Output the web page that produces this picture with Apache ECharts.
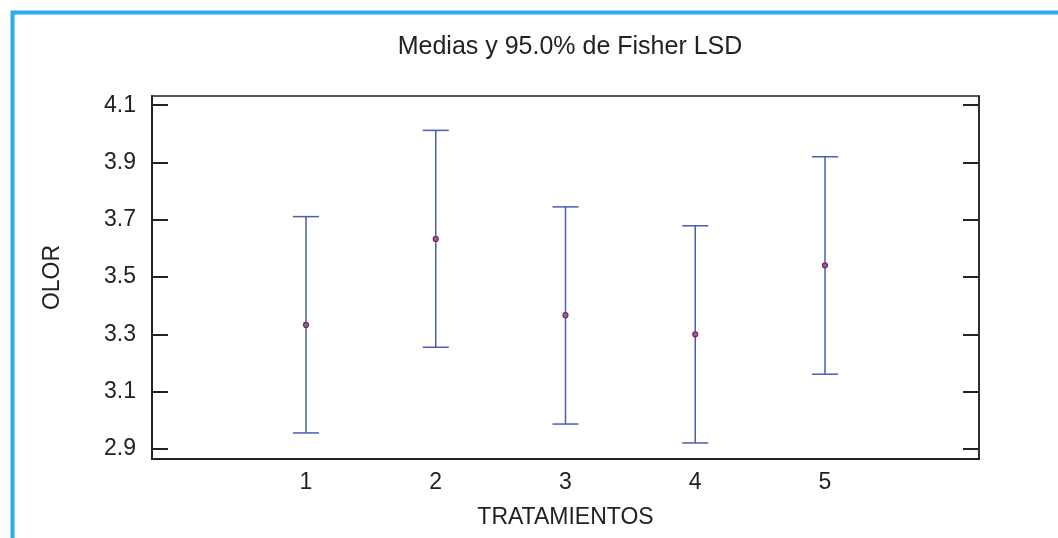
<!DOCTYPE html>
<html>
<head>
<meta charset="utf-8">
<script src="https://cdn.jsdelivr.net/npm/echarts@6/dist/echarts.min.js"></script>
<style>html,body{margin:0;padding:0;background:#fff}#c{width:1058px;height:538px}</style>
</head>
<body>
<div id="c"></div>
<script>
var categories = [1, 2, 3, 4, 5];
var means = [3.333, 3.633, 3.367, 3.300, 3.541];
var lower = [2.956, 3.255, 2.987, 2.921, 3.161];
var upper = [3.711, 4.012, 3.745, 3.679, 3.920];
var yTicks = [2.9, 3.1, 3.3, 3.5, 3.7, 3.9, 4.1];
var xTicks = [1, 2, 3, 4, 5];

var font = '"Liberation Sans", Arial, sans-serif';
var chart = echarts.init(document.getElementById('c'), null, {renderer: 'canvas'});

var barData = categories.map(function (c, i) { return [c, lower[i], upper[i]]; });
var meanData = categories.map(function (c, i) { return [c, means[i]]; });

chart.setOption({
  animation: false,
  backgroundColor: '#fff',
  title: {
    text: 'Medias y 95.0% de Fisher LSD',
    left: 565, textAlign: 'center', top: 30,
    textStyle: {fontFamily: font, fontSize: 25, fontWeight: 'normal', color: '#222'}
  },
  graphic: [{
    type: 'rect', left: 10, top: 10,
    shape: {x: 0, y: 0, width: 1200, height: 700},
    style: {fill: 'none', stroke: '#2aace4', lineWidth: 4},
    silent: true
  }],
  grid: {left: 152, top: 96, right: 79, bottom: 79, show: true, borderColor: '#222', borderWidth: 1.5, containLabel: false},
  xAxis: {
    type: 'value', min: -0.187, max: 6.187,
    name: 'TRATAMIENTOS', nameLocation: 'middle', nameGap: 47,
    nameTextStyle: {fontFamily: font, fontSize: 23, color: '#222'},
    axisLine: {show: true, onZero: false, lineStyle: {color: '#222', width: 2}},
    axisTick: {show: false},
    splitLine: {show: false},
    axisLabel: {customValues: xTicks, fontFamily: font, fontSize: 23, color: '#222', margin: 12}
  },
  yAxis: [{
    type: 'value', min: 2.865, max: 4.132,
    name: 'OLOR', nameLocation: 'middle', nameGap: 88,
    nameTextStyle: {fontFamily: font, fontSize: 23, color: '#222'},
    axisLine: {show: true, onZero: false, lineStyle: {color: '#222', width: 2}},
    axisTick: {show: true, inside: true, length: 16, customValues: yTicks, lineStyle: {color: '#222', width: 2}},
    splitLine: {show: false},
    axisLabel: {customValues: yTicks, fontFamily: font, fontSize: 23, color: '#222', margin: 16,
      formatter: function (v) { return v.toFixed(1); }}
  }, {
    type: 'value', min: 2.865, max: 4.132, position: 'right',
    axisLine: {show: true, onZero: false, lineStyle: {color: '#222', width: 1.5}},
    axisTick: {show: true, inside: true, length: 16, customValues: yTicks, lineStyle: {color: '#222', width: 2}},
    splitLine: {show: false},
    axisLabel: {show: false}
  }],
  series: [{
    type: 'custom',
    data: barData,
    encode: {x: 0, y: [1, 2]},
    renderItem: function (params, api) {
      var x = api.value(0);
      var lo = api.coord([x, api.value(1)]);
      var hi = api.coord([x, api.value(2)]);
      var hw = 13;
      var st = {stroke: '#4a5db0', lineWidth: 1.5, fill: 'none'};
      return {
        type: 'group',
        children: [
          {type: 'line', shape: {x1: lo[0], y1: lo[1], x2: hi[0], y2: hi[1]}, style: st},
          {type: 'line', shape: {x1: lo[0] - hw, y1: lo[1], x2: lo[0] + hw, y2: lo[1]}, style: st},
          {type: 'line', shape: {x1: hi[0] - hw, y1: hi[1], x2: hi[0] + hw, y2: hi[1]}, style: st}
        ]
      };
    },
    z: 2
  }, {
    type: 'scatter',
    data: meanData,
    symbol: 'circle', symbolSize: 5,
    itemStyle: {color: '#6d6fb5', borderColor: '#8e1f52', borderWidth: 1.2, opacity: 1},
    z: 3
  }]
});
</script>
</body>
</html>
